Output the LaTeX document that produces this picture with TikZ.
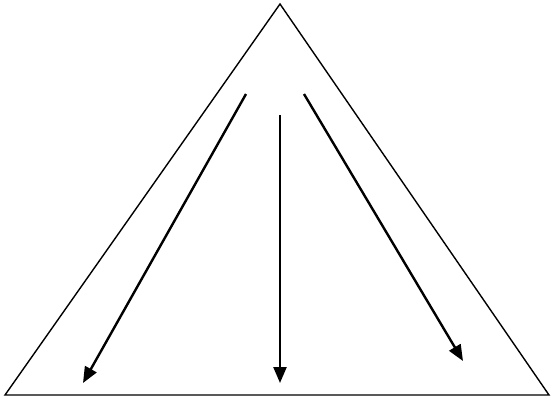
\documentclass[tikz,border=0pt]{standalone}
\usetikzlibrary{arrows.meta}
\begin{document}
\begin{tikzpicture}[x=1pt,y=-1pt,
  tri/.style={draw=black,line width=1.4pt},
  arr/.style={draw=black,line width=2.4pt,-{Triangle[length=16pt,width=13pt]}}]
\useasboundingbox (0,0) rectangle (552,400);
\coordinate (top) at (280,4);
\coordinate (bl) at (5,395);
\coordinate (br) at (549,395);
\draw[tri] (top) -- (bl) -- (br) -- cycle;
\coordinate (s1) at (246,94);
\coordinate (e1) at (83,383);
\coordinate (s2) at (280,115);
\coordinate (e2) at (280,383);
\coordinate (s3) at (304,94);
\coordinate (e3) at (463,361);
\draw[arr] (s1) -- (e1);
\draw[arr] (s2) -- (e2);
\draw[arr] (s3) -- (e3);
\end{tikzpicture}
\end{document}
